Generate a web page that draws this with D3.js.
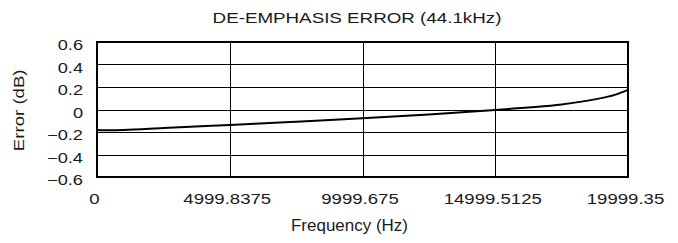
<!DOCTYPE html>
<html>
<head>
<meta charset="utf-8">
<script src="https://cdn.jsdelivr.net/npm/d3@7"></script>
<style>
  body { margin: 0; background: #fff; }
  text { font-family: "Liberation Sans", Arial, sans-serif; fill: #1a1a1a; }
</style>
</head>
<body>
<div id="chart"></div>
<script>
// frequency (Hz) vs de-emphasis error (dB)
var freq  = [0, 500, 1000, 2500, 5000, 7500, 10000, 12500, 15000, 16250, 17500, 18750, 19500, 19999.35];
var error = [-0.182, -0.185, -0.183, -0.165, -0.137, -0.108, -0.078, -0.044, -0.004, 0.018, 0.045, 0.09, 0.13, 0.175];
var xTicks = [0, 4999.8375, 9999.675, 14999.5125, 19999.35];
var yTicks = [-0.6, -0.4, -0.2, 0, 0.2, 0.4, 0.6];

var W = 678, H = 243;
var m = {top: 42, right: 50, bottom: 66, left: 97};
var w = W - m.left - m.right, h = H - m.top - m.bottom;

var svg = d3.select("#chart").append("svg").attr("width", W).attr("height", H);
var g = svg.append("g").attr("transform", "translate(" + m.left + "," + m.top + ")");

var x = d3.scaleLinear().domain([0, 19999.35]).range([0, w]);
var y = d3.scaleLinear().domain([-0.6, 0.6]).range([h, 0]);

// the original lettering is wider than Liberation Sans, so stretch it sideways
function stretch(sel, sx) {
  sel.each(function() {
    var t = d3.select(this);
    var tx = +t.attr("x") || 0, ty = +t.attr("y") || 0;
    t.attr("x", 0).attr("y", 0)
      .attr("transform", "translate(" + tx + "," + ty + ") scale(" + sx + ",1)");
  });
}

// grid
g.selectAll(".hg").data(yTicks.slice(1, -1)).enter().append("line")
  .attr("x1", 0).attr("x2", w)
  .attr("y1", function(d) { return Math.round(y(d)) + 0.5; })
  .attr("y2", function(d) { return Math.round(y(d)) + 0.5; })
  .attr("stroke", "#000").attr("stroke-width", 1);
g.selectAll(".vg").data(xTicks.slice(1, -1)).enter().append("line")
  .attr("y1", 0).attr("y2", h)
  .attr("x1", function(d) { return Math.round(x(d)) + 0.5; })
  .attr("x2", function(d) { return Math.round(x(d)) + 0.5; })
  .attr("stroke", "#000").attr("stroke-width", 1);

// curve
var line = d3.line().x(function(d, i) { return x(freq[i]); }).y(function(d) { return y(d); })
  .curve(d3.curveMonotoneX);
g.append("path").datum(error).attr("d", line)
  .attr("fill", "none").attr("stroke", "#000").attr("stroke-width", 2);

// frame
g.append("rect").attr("width", w).attr("height", h)
  .attr("fill", "none").attr("stroke", "#000").attr("stroke-width", 2);

// axes (labels only)
var fmtY = function(d) { return d === 0 ? "0" : d3.format(".1f")(d).replace("-", "\u2212"); };
var yAxis = g.append("g").call(d3.axisLeft(y).tickValues(yTicks).tickFormat(fmtY).tickSize(0).tickPadding(14));
yAxis.select(".domain").remove();
yAxis.selectAll("text").attr("y", 3.3).style("font-size", "14px")
  .style("font-family", "Liberation Sans, Arial, sans-serif").style("fill", "#1a1a1a");
stretch(yAxis.selectAll("text"), 1.3);

var xAxis = g.append("g").attr("transform", "translate(0," + h + ")")
  .call(d3.axisBottom(x).tickValues(xTicks).tickFormat(function(d) { return String(d); }).tickSize(0).tickPadding(16));
xAxis.select(".domain").remove();
xAxis.selectAll("text").attr("x", -3).style("font-size", "15px")
  .style("font-family", "Liberation Sans, Arial, sans-serif").style("fill", "#1a1a1a");
stretch(xAxis.selectAll("text"), 1.24);

var title = svg.append("text").attr("x", 357).attr("y", 23.3)
  .attr("text-anchor", "middle").style("font-size", "15.4px").text("DE-EMPHASIS ERROR (44.1kHz)");
stretch(title, 1.22);
var xl = svg.append("text").attr("x", 349.5).attr("y", 230.5)
  .attr("text-anchor", "middle").style("font-size", "16.5px").text("Frequency (Hz)");
stretch(xl, 1.03);
svg.append("text").attr("transform", "translate(23.7,110.3) rotate(-90) scale(1.21,1)")
  .attr("text-anchor", "middle").style("font-size", "15.4px").text("Error (dB)");
</script>
</body>
</html>
